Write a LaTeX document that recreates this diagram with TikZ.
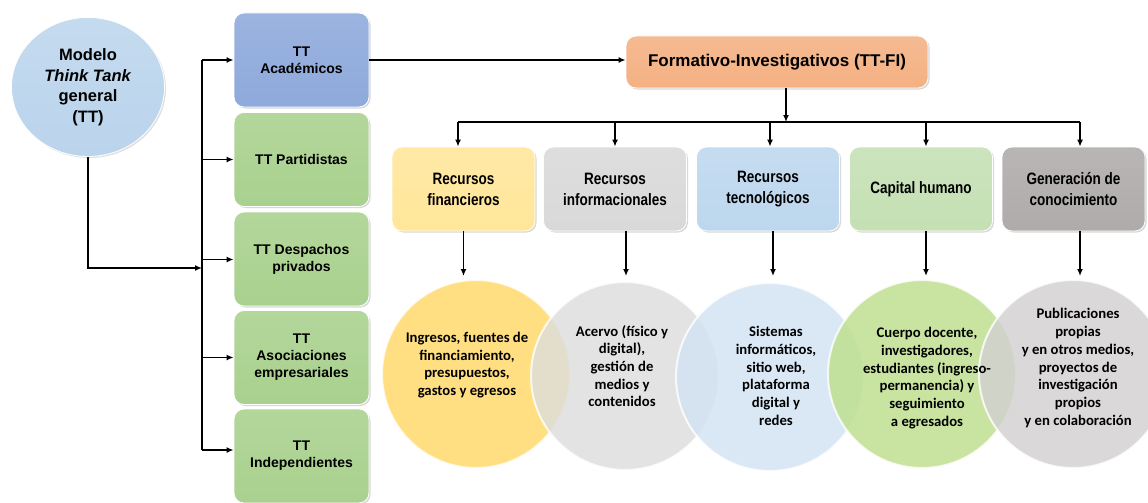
\documentclass[tikz,border=0pt]{standalone}
\usepackage{fontspec}
\setmainfont{Liberation Sans}
\newfontfamily\narrowfont[FakeStretch=0.82]{Liberation Sans}
\newfontfamily\calib{Carlito}
\usetikzlibrary{arrows.meta,shapes.geometric,shadows}
\definecolor{cmodel}{HTML}{BAD4EC}
\definecolor{cacad}{HTML}{8EA9DB}
\definecolor{cgreen}{HTML}{A9D18E}
\definecolor{cform}{HTML}{F4B183}
\definecolor{cyel}{HTML}{FFE699}
\definecolor{cgry}{HTML}{D9D9D9}
\definecolor{cblu}{HTML}{BDD7EE}
\definecolor{cgrn}{HTML}{C5E0B4}
\definecolor{cdgr}{HTML}{AFABAB}
\definecolor{kyel}{HTML}{FFD966}
\definecolor{kgry}{HTML}{DDDDDD}
\definecolor{kblu}{HTML}{D3E4F4}
\definecolor{kgrn}{HTML}{BDDF8C}
\definecolor{kdgr}{HTML}{D2D0D0}
\begin{document}
\begin{tikzpicture}[x=1pt,y=-1pt,
  arr/.style={line width=1.8pt,-{Latex[length=7pt,width=6pt]}},
  ln/.style={line width=1.8pt},
  box/.style={rounded corners=10pt,draw=white,line width=0.8pt,
    drop shadow={shadow xshift=1.5pt,shadow yshift=-1.5pt,opacity=0.25,fill=black!60},
    align=center,inner sep=2pt},
  lbox/.style={box,minimum width=135pt,minimum height=94pt,
    font=\bfseries\fontsize{14}{17}\selectfont},
  rbox/.style={box,minimum width=143pt,minimum height=84pt,
    font=\narrowfont\bfseries\fontsize{16.5}{21}\selectfont},
  circ/.style={circle,minimum size=188pt,inner sep=0pt,fill opacity=0.82,
    draw=white,draw opacity=0.8,line width=2pt},
  ctext/.style={align=center,font=\calib\bfseries\fontsize{14.7}{17.7}\selectfont}
]
\useasboundingbox (0,0) rectangle (1148,503);
\fill[white] (0,0) rectangle (1148,503);

% left model
\node[ellipse,minimum width=153pt,minimum height=139pt,inner sep=0pt,
  top color=cmodel!85!white,bottom color=cmodel,draw=white,line width=0.8pt,
  drop shadow={shadow xshift=1.5pt,shadow yshift=-1.5pt,opacity=0.2,fill=black!60},
  align=center,font=\bfseries\fontsize{16.5}{20.5}\selectfont]
  (model) at (88,87) {Modelo\\\textit{Think Tank}\\general\\(TT)};

% left boxes
\node[lbox,top color=cacad!88!white,bottom color=cacad] (acad) at (301.5,60) {TT\\Académicos};
\node[lbox,top color=cgreen!88!white,bottom color=cgreen] (part) at (301.5,159.5) {TT Partidistas};
\node[lbox,top color=cgreen!88!white,bottom color=cgreen] (desp) at (301.5,259) {TT Despachos\\privados};
\node[lbox,top color=cgreen!88!white,bottom color=cgreen] (asoc) at (301.5,357.5) {TT\\Asociaciones\\empresariales};
\node[lbox,top color=cgreen!88!white,bottom color=cgreen] (indep) at (301.5,456) {TT\\Independientes};

% bus
\coordinate (bt) at (202,60);
\coordinate (bb) at (202,450);
\coordinate (bm) at (202,268);
\draw[ln] (bt) -- (bb);
\draw[arr] (model.south) |- (bm);
\draw[arr] (bt) -- (bt -| acad.west);
\draw[arr] (part.west -| bt) -- (part.west);
\draw[arr] ([yshift=-0.5pt]desp.west -| bt) -- ([yshift=-0.5pt]desp.west);
\draw[arr] (asoc.west -| bt) -- (asoc.west);
\draw[arr] (bb) -- (bb -| indep.west);

% top
\node[box,minimum width=302pt,minimum height=52pt,top color=cform!88!white,bottom color=cform,
  font=\bfseries\fontsize{17}{20}\selectfont] (form) at (777,62) {Formativo-Investigativos (TT-FI)};
\draw[arr] (acad.east) -- (acad.east -| form.west);

\coordinate (hub) at (786,122);
\coordinate (hl) at (458,122);
\coordinate (hr) at (1080,122);
\draw[arr] (form.south -| hub) -- (hub);
\draw[ln] (hl) -- (hr);

% row boxes
\node[rbox,top color=cyel!88!white,bottom color=cyel] (rf) at (463.5,189) {Recursos\\financieros};
\node[rbox,top color=cgry!88!white,bottom color=cgry] (ri) at (615,189) {Recursos\\informacionales};
\node[rbox,top color=cblu!88!white,bottom color=cblu] (rt) at (768,189) {Recursos\\tecnológicos};
\node[rbox,top color=cgrn!88!white,bottom color=cgrn] (ch) at (921,189) {Capital humano};
\node[rbox,top color=cdgr!88!white,bottom color=cdgr] (gc) at (1073.5,189) {Generación de\\conocimiento};

\draw[arr] (hl) -- (hl |- rf.north);
\draw[arr] (ri.north |- hl) -- (ri.north);
\draw[arr] ([xshift=2pt]rt.north |- hl) -- ([xshift=2pt]rt.north);
\draw[arr] ([xshift=5pt]ch.north |- hl) -- ([xshift=5pt]ch.north);
\draw[arr] (hr) -- (hr |- gc.north);

% circles
\node[circ,fill=kyel] (cf) at (476,374) {};
\node[circ,fill=kgry] (ci) at (625,376) {};
\node[circ,fill=kblu] (ct) at (770,377) {};
\node[circ,fill=kgrn] (cc) at (922,374) {};
\node[circ,fill=kdgr] (cg) at (1073,374) {};

\coordinate (ay) at (0,276);
\draw[arr] (rf.south) -- (rf.south |- ay);
\draw[arr] ([xshift=11pt]ri.south) -- ([xshift=11pt]ri.south |- ay);
\draw[arr] ([xshift=5pt]rt.south) -- ([xshift=5pt]rt.south |- ay);
\draw[arr] ([xshift=5pt]ch.south) -- ([xshift=5pt]ch.south |- ay);
\draw[arr] ([xshift=6.5pt]gc.south) -- ([xshift=6.5pt]gc.south |- ay);

% circle texts
\node[ctext] (tf) at (467,365) {Ingresos, fuentes de\\financiamiento,\\presupuestos,\\gastos y egresos};
\node[ctext] (ti) at (622,366) {Acervo (físico y\\digital),\\gestión de\\medios y\\contenidos};
\node[ctext] (tt) at (776,376) {Sistemas\\informáticos,\\sitio web,\\plataforma\\digital y\\redes};
\node[ctext] (tc) at (927,378) {Cuerpo docente,\\investigadores,\\estudiantes (ingreso-\\permanencia) y\\seguimiento\\a egresados};
\node[ctext] (tg) at (1078,368) {Publicaciones\\propias\\y en otros medios,\\proyectos de\\investigación\\propios\\y en colaboración};
\end{tikzpicture}
\end{document}
